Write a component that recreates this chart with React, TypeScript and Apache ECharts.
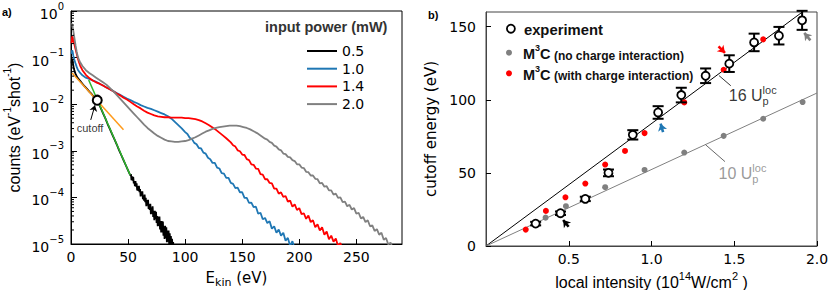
import { useEffect, useRef } from 'react';
import * as echarts from 'echarts';

const DV = '"DejaVu Sans", sans-serif';
const LS = '"Liberation Sans", Arial, sans-serif';

// ---------------- panel a: photoelectron spectra (log10 of counts) ----------------
const powerNames = ['0.5', '1.0', '1.4', '2.0'];
const powerColors = ['#000000', '#1f77b4', '#ff0000', '#808080'];

const blackE = [0.5, 0.8, 1.2, 1.6, 2, 2.5, 3, 4, 5, 6, 8, 10, 12, 14, 16, 18, 20, 22, 23, 24, 26, 28, 30, 32, 34, 36, 38, 40, 42, 44, 46, 48, 50,
  52, 52.5, 53, 53.5, 54, 54.5, 55, 55.5, 56, 56.5, 57, 57.5, 58, 58.5, 59, 59.5, 60, 60.5, 61, 61.5,
  62, 62.5, 63, 63.5, 64, 64.5, 65, 65.5, 66, 66.5, 67, 67.5, 68, 68.5, 69, 69.5, 70, 70.5, 71, 71.5,
  72, 72.5, 73, 73.5, 74, 74.5, 75, 75.5, 76, 76.5, 77, 77.5, 78, 78.5, 79, 79.5, 80, 80.5, 81, 81.5,
  82, 82.5, 83, 83.5, 84, 84.5, 85, 85.5, 86, 86.5, 87, 87.5, 88, 88.5, 89, 89.5, 90];
const blackLog = [-1.12, -1.02, -1.03, -1.10, -1.17, -1.23, -1.28, -1.35, -1.40, -1.44, -1.50, -1.56, -1.62, -1.67, -1.73, -1.78, -1.84, -1.89, -1.92, -1.97, -2.08, -2.19, -2.30, -2.42, -2.53, -2.64, -2.75, -2.86, -2.98, -3.09, -3.20, -3.31, -3.42,
  -3.53, -3.50, -3.63, -3.55, -3.64, -3.56, -3.70, -3.65, -3.76, -3.65, -3.77, -3.70, -3.85, -3.76, -3.86, -3.75, -3.89, -3.82, -3.98, -3.87,
  -3.96, -3.87, -4.04, -3.96, -4.07, -3.94, -4.10, -4.01, -4.19, -4.06, -4.17, -4.05, -4.25, -4.15, -4.27, -4.14, -4.36, -4.22, -4.35, -4.19,
  -4.42, -4.29, -4.49, -4.29, -4.46, -4.31, -4.55, -4.40, -4.62, -4.41, -4.61, -4.41, -4.69, -4.51, -4.75, -4.51, -4.75, -4.52, -4.82, -4.62,
  -4.89, -4.61, -4.87, -4.64, -4.96, -4.71, -4.95, -4.71, -5.01, -4.77, -5.03, -4.83, -5.03, -4.89, -5.06, -4.96, -5.15];

const blueE = [0.5, 1, 1.5, 2, 3, 4, 5, 6, 8, 10, 13, 16, 19, 22, 25, 28, 31, 34, 37, 40, 43, 46, 49, 52, 55, 58, 61, 64, 67, 70, 73, 76, 79, 82, 85, 88, 91, 94, 97,
  100, 102, 104, 106, 108, 110, 112, 114, 116, 118, 120, 122, 124, 126, 128, 130, 132, 134, 136, 138, 140, 142, 144, 146, 148,
  150, 152, 154, 156, 158, 160, 162, 164, 166, 168, 170, 172, 174, 176, 178, 180, 182, 184, 186, 188, 190, 192, 194, 196, 198];
const blueLog = [-0.92, -0.84, -0.88, -0.96, -1.05, -1.13, -1.20, -1.26, -1.33, -1.38, -1.43, -1.46, -1.49, -1.52, -1.56, -1.60, -1.64, -1.68, -1.72, -1.76, -1.80, -1.84, -1.88, -1.91, -1.95, -1.98, -2.02, -2.05, -2.08, -2.10, -2.13, -2.16, -2.19, -2.22, -2.26, -2.31, -2.38, -2.45, -2.52,
  -2.60, -2.64, -2.72, -2.75, -2.83, -2.86, -2.94, -2.95, -3.04, -3.06, -3.15, -3.18, -3.26, -3.26, -3.36, -3.38, -3.48, -3.49, -3.58, -3.58, -3.69, -3.71, -3.80, -3.79, -3.89,
  -3.89, -4.01, -4.01, -4.12, -4.11, -4.21, -4.20, -4.35, -4.33, -4.47, -4.44, -4.55, -4.51, -4.67, -4.62, -4.76, -4.69, -4.82, -4.76, -4.93, -4.87, -5.04, -4.94, -5.11, -5.04];

const redE = [0.5, 1, 1.5, 2, 3, 4, 5, 6, 7, 8, 10, 13, 16, 19, 22, 25, 28, 31, 34, 37, 40, 43, 46, 49, 52, 55, 58, 61, 64, 67, 70, 73, 76, 79, 82, 85, 88, 91, 94, 97,
  100, 103, 106, 109, 112, 115, 118, 121, 124, 127, 130, 133, 136,
  140, 142, 144, 146, 148, 150, 152, 154, 156, 158, 160, 162, 164, 166, 168, 170, 172, 174, 176, 178, 180, 182, 184, 186, 188, 190,
  192, 194, 196, 198, 200, 202, 204, 206, 208, 210, 212, 214, 216, 218, 220, 222, 224, 226, 228, 230, 232, 234, 236, 238, 240];
const redLog = [-0.70, -0.55, -0.56, -0.62, -0.72, -0.82, -0.92, -1.02, -1.10, -1.17, -1.27, -1.37, -1.44, -1.49, -1.53, -1.56, -1.60, -1.64, -1.68, -1.72, -1.77, -1.81, -1.86, -1.90, -1.95, -2.00, -2.05, -2.09, -2.14, -2.18, -2.21, -2.24, -2.26, -2.27, -2.28, -2.28, -2.29, -2.29, -2.29, -2.29,
  -2.30, -2.30, -2.31, -2.32, -2.34, -2.37, -2.41, -2.45, -2.50, -2.55, -2.61, -2.67, -2.73,
  -2.82, -2.88, -2.91, -2.99, -3.01, -3.08, -3.09, -3.18, -3.20, -3.29, -3.30, -3.38, -3.39, -3.50, -3.51, -3.61, -3.61, -3.69, -3.70, -3.81, -3.81, -3.92, -3.89, -3.99, -3.97, -4.09,
  -4.07, -4.20, -4.15, -4.27, -4.23, -4.36, -4.34, -4.46, -4.39, -4.53, -4.49, -4.64, -4.58, -4.71, -4.64, -4.80, -4.73, -4.90, -4.82, -4.95, -4.88, -5.05, -4.98, -5.15, -5.08];

const grayE = [0, 0.5, 1, 1.5, 2, 3, 4, 5, 6, 7, 8, 10, 13, 16, 19, 22, 25, 28, 31, 34, 37, 40, 43, 46, 49, 52, 55, 58, 61, 64, 67, 70, 73, 76, 79, 82, 85, 88, 91, 94,
  97, 100, 103, 106, 109, 112, 115, 118, 121, 124, 127, 130, 133, 136, 139, 142, 145, 148, 151, 154, 157, 160, 163, 166,
  170, 172, 174, 176, 178, 180, 182, 184, 186, 188, 190, 192, 194, 196, 198, 200, 202, 204, 206, 208, 210, 212, 214, 216, 218, 220, 222, 224, 226,
  228, 230, 232, 234, 236, 238, 240, 242, 244, 246, 248, 250, 252, 254, 256, 258, 260, 262, 264, 266, 268, 270, 272, 274, 276, 278, 280, 282];
const grayLog = [-0.30, -0.27, -0.30, -0.35, -0.42, -0.58, -0.74, -0.88, -0.98, -1.05, -1.10, -1.18, -1.27, -1.33, -1.38, -1.43, -1.48, -1.53, -1.58, -1.65, -1.72, -1.80, -1.88, -1.96, -2.04, -2.12, -2.20, -2.28, -2.36, -2.44, -2.51, -2.57, -2.63, -2.68, -2.72, -2.76, -2.79, -2.80, -2.81, -2.81,
  -2.80, -2.79, -2.77, -2.74, -2.71, -2.67, -2.63, -2.59, -2.56, -2.53, -2.51, -2.49, -2.48, -2.47, -2.46, -2.46, -2.46, -2.47, -2.49, -2.51, -2.54, -2.58, -2.62, -2.67,
  -2.74, -2.76, -2.81, -2.83, -2.89, -2.91, -2.97, -2.99, -3.06, -3.07, -3.13, -3.14, -3.20, -3.22, -3.29, -3.29, -3.36, -3.37, -3.45, -3.46, -3.53, -3.53, -3.60, -3.61, -3.70, -3.69, -3.77, -3.76, -3.85,
  -3.85, -3.94, -3.92, -4.01, -4.00, -4.10, -4.09, -4.19, -4.16, -4.26, -4.23, -4.35, -4.33, -4.45, -4.42, -4.53, -4.49, -4.62, -4.60, -4.72, -4.68, -4.80, -4.76, -4.91, -4.87, -5.01, -4.97, -5.10];

// straight-line fits drawn on the 0.5 mW spectrum, and the cutoff they define
const orangeFitE = [1, 46];
const orangeFitLog = [-1.33, -2.55];
const greenFitE = [15.5, 51.8];
const greenFitLog = [-1.48, -3.52];
const cutoffPoint = [23, 0.0122];
const cutoffLabelAt = [16.7, 0.0031];
const cutoffArrow = [[17.3, 0.0046], [21, 0.0095]];

const xTicksA = [0, 50, 100, 150, 200, 250];
const minorDecades = [1e-5, 1e-4, 1e-3, 1e-2, 1e-1];
const minorMantissas = [2, 3, 4, 5, 6, 7, 8, 9];

// ---------------- panel b: cutoff energy vs local intensity ----------------
const expI = [0.30, 0.45, 0.60, 0.74, 0.887, 1.04, 1.18, 1.327, 1.47, 1.62, 1.77, 1.91];
const expE = [15.3, 22.4, 32.2, 50.0, 76.0, 91.3, 103.2, 116.4, 124.7, 139.2, 143.8, 154.3];
const expErr = [1.2, 1.2, 1.5, 2.3, 3.2, 4.3, 5.0, 5.0, 5.7, 6.0, 6.0, 6.5];

const noChargeI = [0.36, 0.483, 0.72, 0.958, 1.198, 1.436, 1.675, 1.913];
const noChargeE = [19.4, 27.2, 40.2, 52.0, 63.9, 75.3, 87.0, 98.4];

const withChargeI = [0.24, 0.362, 0.48, 0.60, 0.72, 0.84, 0.958, 1.198, 1.436, 1.675];
const withChargeE = [11.2, 24.0, 33.3, 42.7, 55.7, 65.0, 77.2, 98.2, 120.5, 141.3];

const line16Up = [[0, 0], [2, 167.4]];
const line10Up = [[0, 0], [2, 104.6]];

const xTicksB = [0.5, 1.0, 1.5, 2.0];
const yTicksB = [0, 50, 100, 150];

// arrows marking the four input powers (from, to) in data coordinates
const powerArrows = [
  { from: [0.499, 13.2], to: [0.466, 17.8], color: '#000000' },
  { from: [1.07, 77.9], to: [1.055, 83.6], color: '#1f77b4' },
  { from: [1.405, 136.5], to: [1.444, 132.0], color: '#ff0000' },
  { from: [1.96, 140.6], to: [1.923, 145.7], color: '#808080' },
];
const label16At = [1.467, 102.6];
const label10At = [1.405, 49.6];
const leader16 = [[1.408, 116.5], [1.479, 109.6]];
const leader10 = [[1.327, 69.2], [1.444, 57.7]];

const NAME_EXP = 'experiment';
const NAME_NO = 'M3C (no charge interaction)';
const NAME_WITH = 'M3C (with charge interaction)';

const toSpectrum = (E: number[], L: number[]) => E.map((e, i) => [e, Math.pow(10, L[i])]);

export default function App() {
  const ref = useRef<HTMLDivElement>(null);

  useEffect(() => {
    if (!ref.current) return;
    const chart = echarts.init(ref.current, undefined, { renderer: 'svg' });

    const spectra = [toSpectrum(blackE, blackLog), toSpectrum(blueE, blueLog), toSpectrum(redE, redLog), toSpectrum(grayE, grayLog)];
    const minorTicks: number[][] = [];
    minorDecades.forEach((d) => minorMantissas.forEach((m) => minorTicks.push([0, m * d])));

    const supRich = {
      b: { fontFamily: DV, fontSize: 14, lineHeight: 20, verticalAlign: 'bottom', color: '#000' },
      s: { fontFamily: DV, fontSize: 10, lineHeight: 8, verticalAlign: 'top', color: '#000' },
    };

    const legendRich = (gap: number) => ({
      g: { width: gap, fontSize: 10, lineHeight: 18 },
      e: { fontFamily: LS, fontSize: 14.8, fontWeight: 'bold', lineHeight: 18, verticalAlign: 'bottom', color: '#111' },
      m: { fontFamily: LS, fontSize: 14.5, fontWeight: 'bold', lineHeight: 18, verticalAlign: 'bottom', color: '#111' },
      s: { fontFamily: LS, fontSize: 9, fontWeight: 'bold', lineHeight: 9, verticalAlign: 'top', color: '#111' },
      p: { fontFamily: LS, fontSize: 12, fontWeight: 'bold', lineHeight: 16, verticalAlign: 'bottom', color: '#111' },
    });
    const legendFmt = (name: string) => {
      if (name === NAME_EXP) return '{g| }{e|experiment}';
      const rest = name.replace('M3C ', '');
      return `{g| }{m|M}{s|3}{m|C}{p| ${rest}}`;
    };

    const upRich = (color: string) => ({
      n: { fontFamily: LS, fontSize: 16, lineHeight: 22, verticalAlign: 'middle', color },
      p: { fontFamily: LS, fontSize: 11, lineHeight: 11, width: 0, verticalAlign: 'bottom', color },
      l: { fontFamily: LS, fontSize: 11, lineHeight: 11, verticalAlign: 'top', color },
    });

    const spectrumSeries = powerNames.map((name, i) => ({
      name,
      type: 'line',
      xAxisIndex: 0,
      yAxisIndex: 0,
      data: spectra[i],
      showSymbol: false,
      symbol: 'none',
      color: powerColors[i],
      lineStyle: { color: powerColors[i], width: 1.8 },
      itemStyle: { color: powerColors[i] },
      z: 2 + i,
    }));

    const option: any = {
      animation: false,
      backgroundColor: '#ffffff',
      grid: [
        { left: 71, top: 11, width: 331, height: 233, show: true, borderColor: '#000', borderWidth: 1, backgroundColor: 'transparent', containLabel: false, outerBoundsMode: 'none' },
        { left: 486, top: 12, width: 331, height: 234, show: true, borderColor: '#444', borderWidth: 1, backgroundColor: 'transparent', containLabel: false, outerBoundsMode: 'none' },
      ],
      xAxis: [
        {
          gridIndex: 0, type: 'value', min: 0, max: 290, interval: 50,
          axisLine: { show: true, onZero: false, lineStyle: { color: '#000', width: 1 } },
          axisTick: { show: true, inside: true, length: 5, customValues: xTicksA, lineStyle: { color: '#000' } },
          axisLabel: { customValues: xTicksA, fontFamily: DV, fontSize: 14, color: '#000', margin: 6 },
          splitLine: { show: false },
          name: '{t|E}{sub|kin}{t| (eV)}', nameLocation: 'middle', nameGap: 26,
          nameTextStyle: {
            rich: {
              t: { fontFamily: DV, fontSize: 15, lineHeight: 18, verticalAlign: 'top', color: '#000' },
              sub: { fontFamily: DV, fontSize: 11, lineHeight: 11, verticalAlign: 'bottom', color: '#000' },
            },
          },
        },
        {
          gridIndex: 1, type: 'value', min: 0, max: 2,
          axisLine: { show: true, onZero: false, lineStyle: { color: '#444', width: 1 } },
          axisTick: { show: true, inside: true, length: 5, customValues: xTicksB, lineStyle: { color: '#000' } },
          axisLabel: { customValues: xTicksB, fontFamily: DV, fontSize: 14, color: '#000', margin: 6, formatter: (v: number) => v.toFixed(1) },
          splitLine: { show: false },
          name: '{t|local intensity (10}{s|14}{t|W/cm}{s|2}{t| )}', nameLocation: 'middle', nameGap: 23,
          nameTextStyle: {
            rich: {
              t: { fontFamily: LS, fontSize: 16, lineHeight: 20, verticalAlign: 'bottom', color: '#000' },
              s: { fontFamily: LS, fontSize: 11, lineHeight: 10, verticalAlign: 'top', color: '#000' },
            },
          },
        },
      ],
      yAxis: [
        {
          gridIndex: 0, type: 'log', logBase: 10, min: 1e-5, max: 1,
          axisLine: { show: true, onZero: false, lineStyle: { color: '#000', width: 1 } },
          axisTick: { show: true, inside: true, length: 6, lineStyle: { color: '#000' } },
          axisLabel: {
            margin: 7,
            formatter: (v: number) => {
              const e = Math.round(Math.log10(v));
              return `{b|10}{s|${e === 0 ? '0' : '\u2212' + Math.abs(e)}}`;
            },
            rich: supRich,
          },
          splitLine: { show: false },
          minorTick: { show: false },
          name: '{t|counts (eV}{s|-1}{t|shot}{s|-1}{t|)}', nameLocation: 'middle', nameGap: 49, nameRotate: 90,
          nameTextStyle: {
            rich: {
              t: { fontFamily: LS, fontSize: 16, lineHeight: 20, verticalAlign: 'bottom', color: '#000' },
              s: { fontFamily: LS, fontSize: 10, lineHeight: 10, verticalAlign: 'top', color: '#000' },
            },
          },
        },
        {
          gridIndex: 1, type: 'value', min: 0, max: 160,
          axisLine: { show: true, onZero: false, lineStyle: { color: '#444', width: 1 } },
          axisTick: { show: true, inside: true, length: 5, customValues: yTicksB, lineStyle: { color: '#000' } },
          axisLabel: { customValues: yTicksB, fontFamily: DV, fontSize: 14, color: '#000', margin: 10 },
          splitLine: { show: false },
          name: 'cutoff energy (eV)', nameLocation: 'middle', nameGap: 48, nameRotate: 90,
          nameTextStyle: { fontFamily: DV, fontSize: 15, color: '#000' },
        },
      ],
      legend: [
        {
          data: powerNames, orient: 'vertical', left: 302, top: 38, itemWidth: 30, itemHeight: 2, itemGap: 1.7,
          icon: 'rect', selectedMode: false,
          textStyle: { fontFamily: DV, fontSize: 14, color: '#000', lineHeight: 16 },
        },
        {
          data: [{ name: NAME_EXP, icon: 'circle', itemStyle: { color: '#fff', borderColor: '#000', borderWidth: 1.8 } }],
          left: 501, top: 17.7, itemWidth: 8, itemHeight: 8, selectedMode: false, formatter: legendFmt,
          textStyle: { rich: legendRich(4) },
        },
        {
          data: [{ name: NAME_NO, icon: 'circle', itemStyle: { color: '#808080', borderWidth: 0 } }],
          left: 501, top: 38.7, itemWidth: 6, itemHeight: 6, selectedMode: false, formatter: legendFmt,
          textStyle: { rich: legendRich(6) },
        },
        {
          data: [{ name: NAME_WITH, icon: 'circle', itemStyle: { color: '#ff0000', borderWidth: 0 } }],
          left: 501, top: 59.3, itemWidth: 6, itemHeight: 6, selectedMode: false, formatter: legendFmt,
          textStyle: { rich: legendRich(6) },
        },
      ],
      graphic: [
        { type: 'text', left: 2, top: 6, style: { text: 'a)', fontFamily: LS, fontSize: 11, fontWeight: 'bold', fill: '#000' } },
        { type: 'text', left: 428, top: 9, style: { text: 'b)', fontFamily: LS, fontSize: 11, fontWeight: 'bold', fill: '#000' } },
        { type: 'text', left: 265, top: 19, style: { text: 'input power (mW)', fontFamily: LS, fontSize: 14.5, fontWeight: 'bold', fill: '#333' } },
      ],
      series: [
        ...spectrumSeries,
        {
          name: 'fit-orange', type: 'line', xAxisIndex: 0, yAxisIndex: 0, symbol: 'none',
          data: toSpectrum(orangeFitE, orangeFitLog), lineStyle: { color: '#ff9a1a', width: 1.5 }, z: 7,
        },
        {
          name: 'fit-green', type: 'line', xAxisIndex: 0, yAxisIndex: 0, symbol: 'none',
          data: toSpectrum(greenFitE, greenFitLog), lineStyle: { color: '#2db82d', width: 1.5 }, z: 7,
        },
        {
          name: 'cutoff', type: 'scatter', xAxisIndex: 0, yAxisIndex: 0,
          data: [cutoffPoint], symbol: 'circle', symbolSize: 9,
          itemStyle: { color: '#fff', borderColor: '#000', borderWidth: 2, opacity: 1 }, z: 9,
          markLine: {
            silent: true, symbol: ['none', 'arrow'], symbolSize: 6, label: { show: false },
            lineStyle: { color: '#000', width: 1, type: 'solid' },
            data: [[{ coord: cutoffArrow[0] }, { coord: cutoffArrow[1] }]],
          },
        },
        {
          name: 'cutoff-label', type: 'scatter', xAxisIndex: 0, yAxisIndex: 0, symbolSize: 0, silent: true,
          data: [cutoffLabelAt],
          label: { show: true, position: [0, 0], align: 'center', verticalAlign: 'middle', formatter: 'cutoff', fontFamily: LS, fontSize: 11, color: '#000' },
          z: 9,
        },
        {
          name: 'minor-ticks', type: 'custom', xAxisIndex: 0, yAxisIndex: 0, silent: true, clip: false,
          data: minorTicks,
          renderItem: (_p: any, api: any) => {
            const pt = api.coord([0, api.value(1)]);
            return { type: 'line', shape: { x1: pt[0], y1: pt[1], x2: pt[0] + 3, y2: pt[1] }, style: { stroke: '#000', lineWidth: 1 } };
          },
          z: 10,
        },
        // ---- panel b ----
        {
          name: '16Up', type: 'line', xAxisIndex: 1, yAxisIndex: 1, symbol: 'none', data: line16Up,
          lineStyle: { color: '#000', width: 1 }, z: 1,
          markLine: {
            silent: true, symbol: ['none', 'arrow'], symbolSize: 7, label: { show: false },
            lineStyle: { width: 2.6, type: 'solid' },
            data: powerArrows.map((a) => [{ coord: a.from, lineStyle: { color: a.color, width: 2.6, type: 'solid' } }, { coord: a.to }]),
          },
        },
        {
          name: '10Up', type: 'line', xAxisIndex: 1, yAxisIndex: 1, symbol: 'none', data: line10Up,
          lineStyle: { color: '#808080', width: 1 }, z: 1,
          markLine: {
            silent: true, symbol: ['none', 'none'], label: { show: false },
            lineStyle: { width: 0.8, type: 'solid' },
            data: [
              [{ coord: leader16[0], lineStyle: { color: '#000', width: 0.8, type: 'solid' } }, { coord: leader16[1] }],
              [{ coord: leader10[0], lineStyle: { color: '#404040', width: 0.8, type: 'solid' } }, { coord: leader10[1] }],
            ],
          },
        },
        {
          name: NAME_NO, type: 'scatter', xAxisIndex: 1, yAxisIndex: 1, symbol: 'circle', symbolSize: 6,
          data: noChargeI.map((x, i) => [x, noChargeE[i]]), itemStyle: { color: '#808080', opacity: 1 }, z: 3,
        },
        {
          name: NAME_WITH, type: 'scatter', xAxisIndex: 1, yAxisIndex: 1, symbol: 'circle', symbolSize: 6,
          data: withChargeI.map((x, i) => [x, withChargeE[i]]), itemStyle: { color: '#ff0000', opacity: 1 }, z: 3,
        },
        {
          name: 'errorbars', type: 'custom', xAxisIndex: 1, yAxisIndex: 1, silent: true,
          data: expI.map((x, i) => [x, expE[i] - expErr[i], expE[i] + expErr[i]]),
          encode: { x: 0, y: [1, 2] },
          renderItem: (_p: any, api: any) => {
            const x = api.value(0);
            const lo = api.coord([x, api.value(1)]);
            const hi = api.coord([x, api.value(2)]);
            const w = 5.5;
            const st = { stroke: '#000', lineWidth: 2 };
            return {
              type: 'group',
              children: [
                { type: 'line', shape: { x1: lo[0], y1: lo[1], x2: hi[0], y2: hi[1] }, style: st },
                { type: 'line', shape: { x1: lo[0] - w, y1: lo[1], x2: lo[0] + w, y2: lo[1] }, style: st },
                { type: 'line', shape: { x1: hi[0] - w, y1: hi[1], x2: hi[0] + w, y2: hi[1] }, style: st },
              ],
            };
          },
          z: 4,
        },
        {
          name: NAME_EXP, type: 'scatter', xAxisIndex: 1, yAxisIndex: 1, symbol: 'circle', symbolSize: 8,
          data: expI.map((x, i) => [x, expE[i]]),
          itemStyle: { color: '#fff', borderColor: '#000', borderWidth: 1.8, opacity: 1 }, z: 5,
        },
        {
          name: 'up-labels', type: 'scatter', xAxisIndex: 1, yAxisIndex: 1, symbolSize: 0, silent: true, z: 6,
          data: [
            {
              value: label16At,
              label: { show: true, position: [0, 0], align: 'left', verticalAlign: 'middle', formatter: '{n|16 U}{p|p}{l|loc}', rich: upRich('#000') },
            },
            {
              value: label10At,
              label: { show: true, position: [0, 0], align: 'left', verticalAlign: 'middle', formatter: '{n|10 U}{p|p}{l|loc}', rich: upRich('#808080') },
            },
          ],
        },
      ],
    };

    chart.setOption(option);
    return () => chart.dispose();
  }, []);

  return <div ref={ref} style={{ position: 'fixed', left: 0, top: 0, width: 830, height: 290 }} />;
}
